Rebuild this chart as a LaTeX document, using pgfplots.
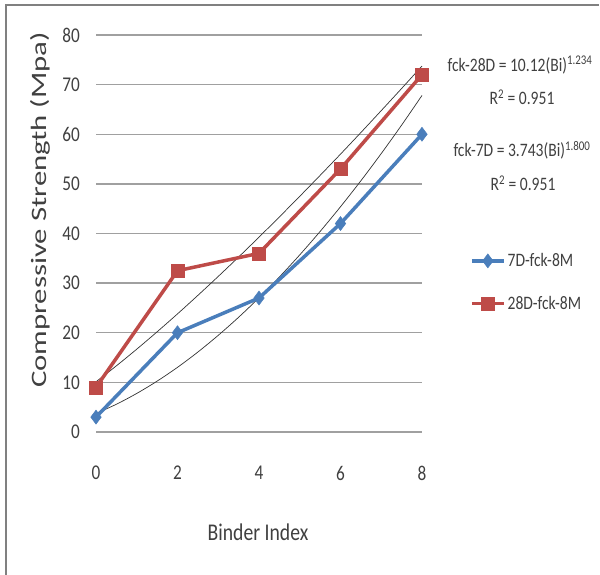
\documentclass[border=0pt]{standalone}
\usepackage{pgfplots}
\pgfplotsset{compat=1.18}
\usepackage{fontspec}
\setmainfont{Carlito}[FakeStretch=0.82]
\newfontfamily\ylabfont{Carlito}[FakeStretch=1.4]
\definecolor{exblue}{RGB}{74,126,187}
\definecolor{exred}{RGB}{190,75,72}
\definecolor{gridgray}{RGB}{160,160,160}
\definecolor{txt}{RGB}{64,64,64}
\begin{document}
\begin{tikzpicture}
\useasboundingbox (0pt,0pt) rectangle (600pt,575pt);
\draw[gray, line width=2pt] (6pt,0pt) -- (6pt,570pt) -- (599pt,570pt);
\begin{axis}[
  at={(96pt,143pt)}, anchor=south west,
  scale only axis, width=326pt, height=397pt,
  xmin=0, xmax=8, ymin=0, ymax=80,
  xtick={0,2,4,6,8}, ytick={0,10,...,80},
  ymajorgrids, grid style={gridgray, line width=1.3pt},
  axis line style={draw=none},
  major tick length=0pt,
  tick label style={font=\fontsize{21}{22}\selectfont, text=txt},
  yticklabel style={inner sep=0pt, anchor=east, xshift=-16pt},
  xticklabel style={inner sep=0pt, anchor=north, yshift=-34pt},
  /pgf/number format/assume math mode=true,
  clip=false,
  legend style={draw=none, fill=none, at={(1.147,0.455)}, anchor=north west,
    font=\fontsize{19}{20}\selectfont, text=txt, row sep=24pt, inner sep=0pt},
  legend cell align=left,
  legend image code/.code={\draw[#1, mark repeat=2, mark phase=2] plot coordinates {(0pt,0pt) (16pt,0pt) (32pt,0pt)};},
]
% power trendlines (from displayed equations)
\addplot[forget plot, black!80, line width=0.7pt, smooth] coordinates {
(0,10.12)(0.5,13.33)(1,16.69)(1.5,20.19)(2,23.80)(2.5,27.53)(3,31.35)(3.5,35.26)(4,39.26)(4.5,43.34)(5,47.49)(5.5,51.71)(6,55.99)(6.5,60.34)(7,64.76)(7.5,69.22)(8,73.75)};
\addplot[forget plot, black!80, line width=0.7pt, smooth] coordinates {
(0,3.74)(0.5,5.59)(1,7.77)(1.5,10.25)(2,13.03)(2.5,16.11)(3,19.48)(3.5,23.12)(4,27.04)(4.5,31.23)(5,35.69)(5.5,40.41)(6,45.39)(6.5,50.62)(7,56.11)(7.5,61.84)(8,67.82)};
\addplot[exblue, line width=3.5pt, mark=diamond*, mark size=7pt, mark options={fill=exblue, line width=0.5pt}] coordinates {
(0,3)(2,20)(4,27)(6,42)(8,60)};
\addlegendentry{7D-fck-8M}
\addplot[exred, line width=3.5pt, mark=square*, mark size=6.5pt, mark options={fill=exred, line width=0.5pt}] coordinates {
(0,9)(2,32.5)(4,36)(6,53)(8,72)};
\addlegendentry{28D-fck-8M}
\end{axis}
\node[rotate=90, text=txt, font=\ylabfont\fontsize{22}{24}\selectfont] at (40pt,365pt) {Compressive Strength (Mpa)};
\node[text=txt, font=\fontsize{24}{26}\selectfont] at (258pt,43pt) {Binder Index};
\begin{scope}[every node/.style={text=txt, font=\fontsize{19}{20}\selectfont}]
\node at (520pt,510pt) {fck-28D = 10.12(Bi)\textsuperscript{1.234}};
\node at (522pt,478pt) {R\textsuperscript{2} = 0.951};
\node at (522pt,425pt) {fck-7D = 3.743(Bi)\textsuperscript{1.800}};
\node at (523pt,392pt) {R\textsuperscript{2} = 0.951};
\end{scope}
\end{tikzpicture}
\end{document}
